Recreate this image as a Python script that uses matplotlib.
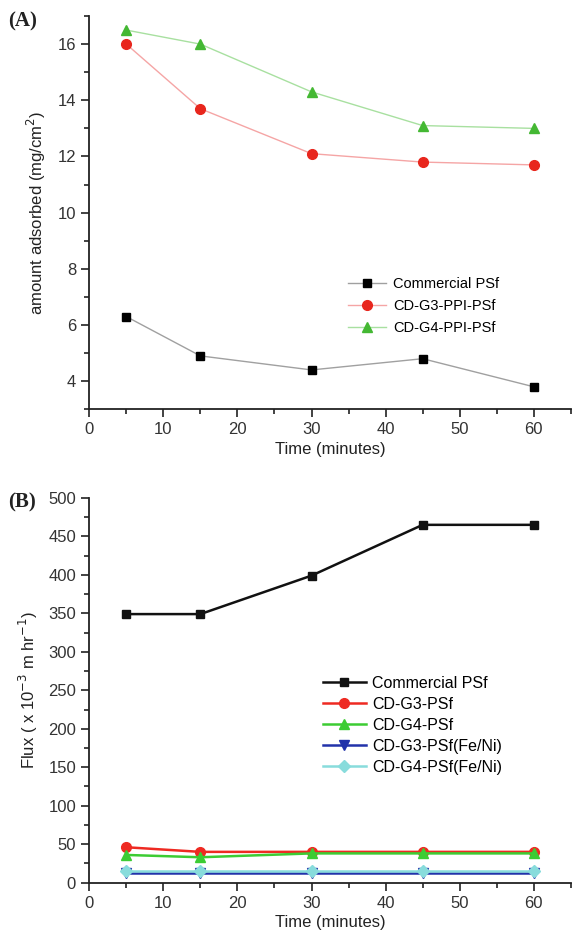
import matplotlib.pyplot as plt
from matplotlib.ticker import MultipleLocator

plt.rcParams["font.family"] = ["Liberation Sans", "DejaVu Sans"]

time_min = [5, 15, 30, 45, 60]

# panel A: amount adsorbed (mg/cm2)
ads_commercial = [6.3, 4.9, 4.4, 4.8, 3.8]
ads_g3 = [16.0, 13.7, 12.1, 11.8, 11.7]
ads_g4 = [16.5, 16.0, 14.3, 13.1, 13.0]

# panel B: flux (x 10^-3 m hr^-1)
flux_commercial = [349, 349, 399, 465, 465]
flux_g3 = [46, 40, 40, 40, 40]
flux_g4 = [36, 33, 38, 38, 38]
flux_g3_feni = [12, 12, 12, 12, 12]
flux_g4_feni = [15, 15, 15, 15, 15]


def style_axis(ax):
    ax.spines[["top", "right"]].set_visible(False)
    for s in ("left", "bottom"):
        ax.spines[s].set_linewidth(1.3)
        ax.spines[s].set_color("#222222")
    ax.tick_params(which="both", direction="out", colors="#222222", labelsize=12, width=1.2)
    ax.tick_params(which="major", length=6)
    ax.tick_params(which="minor", length=3.5)
    ax.tick_params(labelcolor="#333333")
    ax.set_xlim(0, 65)
    ax.xaxis.set_major_locator(MultipleLocator(10))
    ax.xaxis.set_minor_locator(MultipleLocator(5))
    ax.set_xlabel("Time (minutes)", fontsize=12, color="#222222", labelpad=3)


fig = plt.figure(figsize=(5.72, 9.43), dpi=100)

# ---- (A)
ax1 = fig.add_axes([0.156, 0.566, 0.842, 0.417])
style_axis(ax1)
ax1.set_ylim(3, 17)
ax1.yaxis.set_major_locator(MultipleLocator(2))
ax1.yaxis.set_minor_locator(MultipleLocator(1))
ax1.yaxis.set_major_formatter(lambda v, p: f"{v:.0f}")
ax1.plot(time_min, ads_commercial, color="#a0a0a0", lw=1, marker="s", ms=6,
         mfc="black", mec="black", label="Commercial PSf")
ax1.plot(time_min, ads_g3, color="#f5a5a5", lw=1, marker="o", ms=7,
         mfc="#e8261d", mec="#e8261d", label="CD-G3-PPI-PSf")
ax1.plot(time_min, ads_g4, color="#a8e0a0", lw=1, marker="^", ms=7,
         mfc="#44b833", mec="#44b833", label="CD-G4-PPI-PSf")
ax1.set_ylabel("amount adsorbed (mg/cm$^2$)", fontsize=12, color="#222222", labelpad=7)
ax1.legend(loc="upper left", bbox_to_anchor=(0.51, 0.37), frameon=False, fontsize=10.5,
           handlelength=2.6, labelspacing=0.55, handletextpad=0.5)
fig.text(0.015, 0.972, "(A)", fontsize=15, fontweight="bold", family="Liberation Serif",
         color="#222222")

# ---- (B)
ax2 = fig.add_axes([0.156, 0.064, 0.842, 0.408])
style_axis(ax2)
ax2.set_ylim(0, 500)
ax2.yaxis.set_major_locator(MultipleLocator(50))
ax2.yaxis.set_minor_locator(MultipleLocator(25))
ax2.plot(time_min, flux_commercial, color="#111111", lw=1.8, marker="s", ms=6,
         label="Commercial PSf")
ax2.plot(time_min, flux_g3, color="#ee2a22", lw=1.8, marker="o", ms=7,
         label="CD-G3-PSf")
ax2.plot(time_min, flux_g4, color="#3ccc33", lw=1.8, marker="^", ms=7,
         label="CD-G4-PSf")
ax2.plot(time_min, flux_g3_feni, color="#2233aa", lw=1.8, marker="v", ms=7,
         label="CD-G3-PSf(Fe/Ni)")
ax2.plot(time_min, flux_g4_feni, color="#88dcdc", lw=1.8, marker="D", ms=6,
         label="CD-G4-PSf(Fe/Ni)")
ax2.set_ylabel("Flux ( x 10$^{-3}$ m hr$^{-1}$)", fontsize=12, color="#222222", labelpad=6)
ax2.legend(loc="upper left", bbox_to_anchor=(0.455, 0.575), frameon=False, fontsize=11.5,
           handlelength=2.7, labelspacing=0.38, handletextpad=0.4)
fig.text(0.015, 0.462, "(B)", fontsize=15, fontweight="bold", family="Liberation Serif",
         color="#222222")

fig.savefig("out.png", dpi=100, facecolor="white")
